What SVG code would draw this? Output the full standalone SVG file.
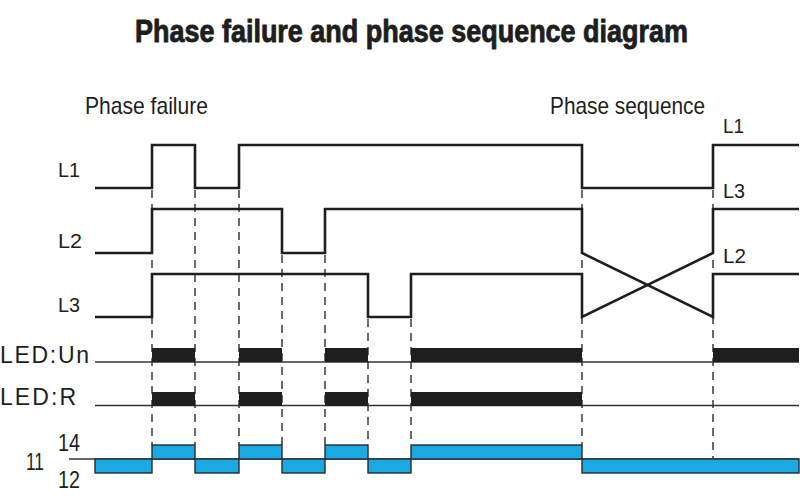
<svg xmlns="http://www.w3.org/2000/svg" width="800" height="498" viewBox="0 0 800 498">
  <style>
    .t { font-family: "Liberation Sans", Arial, sans-serif; fill: #1e1e1e; }
    .title { font-weight: bold; stroke: #1e1e1e; stroke-width: 0.9; stroke-linejoin: round; }
    .wave { fill: none; stroke: #1e1e1e; stroke-width: 2.6; stroke-linejoin: miter; }
    .dash { fill: none; stroke: #3a3a3a; stroke-width: 1.5; stroke-dasharray: 8 6; }
    .base { fill: none; stroke: #333; stroke-width: 1.4; }
    .led { fill: #1e1e1e; }
    .rel { fill: #1aa9e1; stroke: #2a2a2a; stroke-width: 1.4; }
  </style>
  <rect width="800" height="498" fill="#ffffff"/>

  <g id="title">
    <text class="t title" x="135" y="41.5" font-size="32" textLength="553" lengthAdjust="spacingAndGlyphs">Phase failure and phase sequence diagram</text>
  </g>

  <g id="labels">
    <text class="t" x="85" y="114" font-size="24" textLength="123" lengthAdjust="spacingAndGlyphs">Phase failure</text>
    <text class="t" x="550" y="114" font-size="24" textLength="155" lengthAdjust="spacingAndGlyphs">Phase sequence</text>
    <text class="t" x="58" y="177" font-size="21" textLength="22" lengthAdjust="spacingAndGlyphs">L1</text>
    <text class="t" x="58" y="248" font-size="21" textLength="24" lengthAdjust="spacingAndGlyphs">L2</text>
    <text class="t" x="58" y="312" font-size="21" textLength="22" lengthAdjust="spacingAndGlyphs">L3</text>
    <text class="t" x="723" y="133" font-size="21" textLength="21" lengthAdjust="spacingAndGlyphs">L1</text>
    <text class="t" x="723" y="198" font-size="21" textLength="22" lengthAdjust="spacingAndGlyphs">L3</text>
    <text class="t" x="723" y="263" font-size="21" textLength="23" lengthAdjust="spacingAndGlyphs">L2</text>
    <text class="t" x="0" y="363" font-size="23" textLength="89" lengthAdjust="spacing">LED:Un</text>
    <text class="t" x="0" y="405" font-size="23" textLength="76" lengthAdjust="spacing">LED:R</text>
    <text class="t" x="26" y="470" font-size="23" textLength="18" lengthAdjust="spacingAndGlyphs">11</text>
    <text class="t" x="58" y="451" font-size="23" textLength="22" lengthAdjust="spacingAndGlyphs">14</text>
    <text class="t" x="58" y="488" font-size="23" textLength="22" lengthAdjust="spacingAndGlyphs">12</text>
  </g>

  <g id="connectors">
    <path class="dash" d="M152,190 V445 M195,190 V445 M239,190 V445 M282,255 V445 M325,255 V445 M368,319 V445 M411,319 V445 M582,190 V445 M713,190 V459"/>
  </g>

  <g id="L1">
    <path class="wave" d="M95,188 H152 V145 H195 V188 H239 V145 H582 V188 H713 V145 H799"/>
  </g>
  <g id="L2">
    <path class="wave" d="M95,253 H152 V209 H282 V253 H325 V209 H582 V253 L713,317 V274 H799"/>
  </g>
  <g id="L3">
    <path class="wave" d="M95,317 H152 V274 H368 V317 H411 V274 H582 V317 L713,253 V209 H799"/>
  </g>

  <g id="LED-Un">
    <line class="base" x1="95" y1="362" x2="799" y2="362"/>
    <rect class="led" x="152" y="348" width="43" height="14"/>
    <rect class="led" x="239" y="348" width="43" height="14"/>
    <rect class="led" x="325" y="348" width="43" height="14"/>
    <rect class="led" x="411" y="348" width="171" height="14"/>
    <rect class="led" x="713" y="348" width="86" height="14"/>
  </g>

  <g id="LED-R">
    <line class="base" x1="95" y1="405.5" x2="799" y2="405.5"/>
    <rect class="led" x="152" y="392" width="43" height="14"/>
    <rect class="led" x="239" y="392" width="43" height="14"/>
    <rect class="led" x="325" y="392" width="43" height="14"/>
    <rect class="led" x="411" y="392" width="171" height="14"/>
  </g>

  <g id="relay">
    <line class="base" x1="69" y1="459" x2="799" y2="459"/>
    <rect class="rel" x="95" y="459" width="57" height="14"/>
    <rect class="rel" x="152" y="445" width="43" height="14"/>
    <rect class="rel" x="195" y="459" width="44" height="14"/>
    <rect class="rel" x="239" y="445" width="43" height="14"/>
    <rect class="rel" x="282" y="459" width="43" height="14"/>
    <rect class="rel" x="325" y="445" width="43" height="14"/>
    <rect class="rel" x="368" y="459" width="43" height="14"/>
    <rect class="rel" x="411" y="445" width="171" height="14"/>
    <rect class="rel" x="582" y="459" width="217" height="14"/>
  </g>
</svg>
